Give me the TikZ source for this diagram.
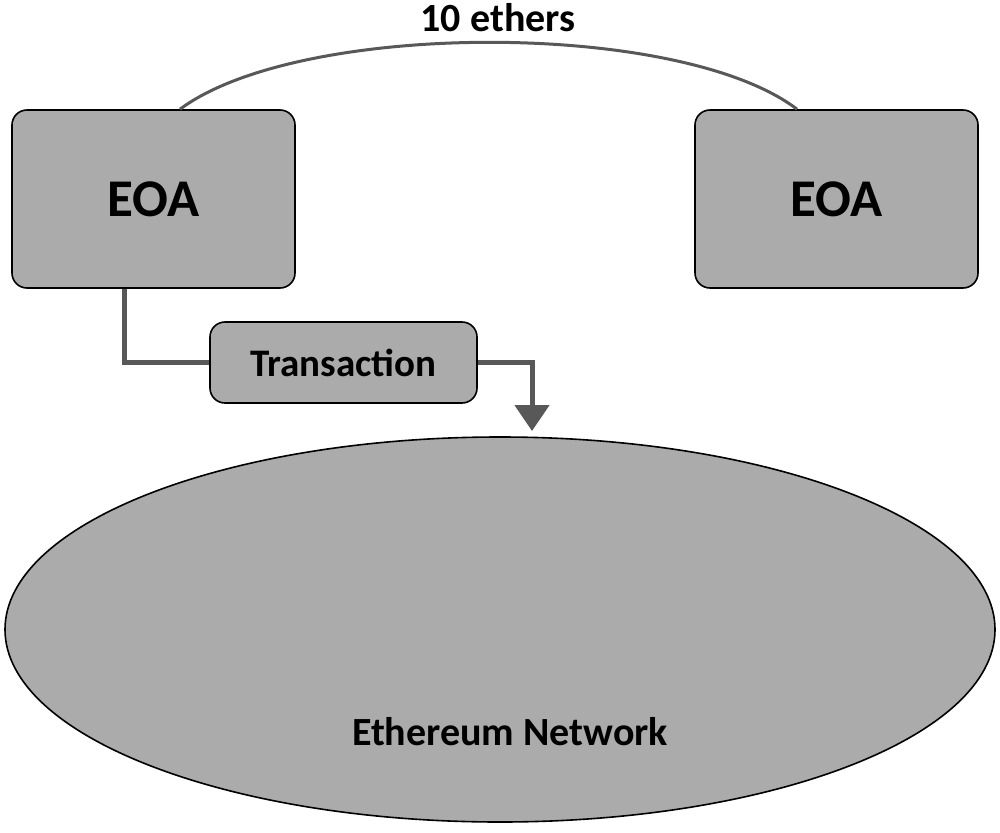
\documentclass[tikz,border=0pt]{standalone}
\usepackage{fontspec}
\setmainfont{Carlito}
\usetikzlibrary{shapes.geometric,arrows.meta}
\definecolor{boxfill}{RGB}{171,171,171}
\definecolor{connc}{RGB}{88,88,88}
\begin{document}
\begin{tikzpicture}[x=1pt,y=-1pt,
  box/.style={draw=black,line width=1.6pt,fill=boxfill,rounded corners=15pt,inner sep=0pt},
  conn/.style={draw=connc,line width=5pt},
  lbl/.style={font=\bfseries,text=black,inner sep=0pt}]
\useasboundingbox[fill=white] (0,0) rectangle (1000,832);
\node[box,minimum width=283pt,minimum height=178pt,font=\bfseries\fontsize{53}{60}\selectfont] (eoa1) at (153.5,199) {EOA};
\node[box,minimum width=283pt,minimum height=178pt,font=\bfseries\fontsize{53}{60}\selectfont] (eoa2) at (836.5,199) {EOA};
\node[box,minimum width=267pt,minimum height=81pt,font=\bfseries\fontsize{39}{44}\selectfont] (tx) at (343.5,362.5) {Transaction};
\node[ellipse,draw=black,line width=1.6pt,fill=boxfill,minimum width=990pt,minimum height=385pt,inner sep=0pt] (net) at (500,629.5) {};
\node[lbl,font=\bfseries\fontsize{40}{44}\selectfont] (netlbl) at (510,732) {Ethereum Network};
\node[lbl,font=\bfseries\fontsize{40}{44}\selectfont] (eth) at (498,18) {10 ethers};
\coordinate (a1) at ([xshift=26.5pt]eoa1.north);
\coordinate (a2) at ([xshift=-39.5pt]eoa2.north);
\draw[draw=connc,line width=3pt] (a1) .. controls (300,20) and (680,20) .. (a2);
\coordinate (tip) at (532,431);
\draw[conn] ([xshift=-29.5pt]eoa1.south) |- (tx.west);
\draw[conn,-{Triangle[width=34pt,length=26pt]}] (tx.east) -| (tip);
\end{tikzpicture}
\end{document}
